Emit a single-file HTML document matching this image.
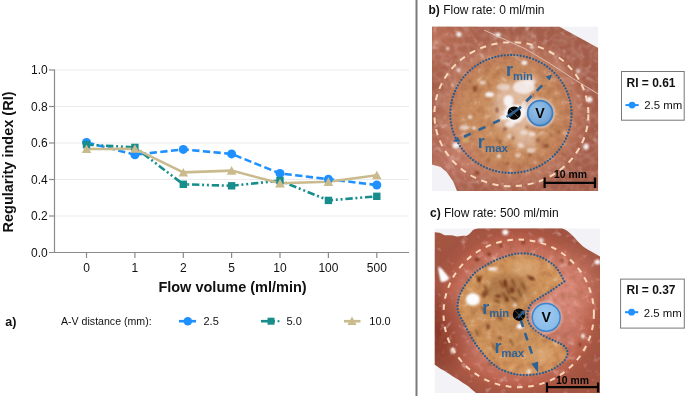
<!DOCTYPE html>
<html><head><meta charset="utf-8">
<style>
html,body{margin:0;padding:0;background:#fff;}
body{width:685px;height:396px;overflow:hidden;}
svg{display:block;will-change:transform;}
text{font-family:"Liberation Sans",sans-serif;}
</style></head>
<body>
<svg width="685" height="396" viewBox="0 0 685 396">
<defs>
  <clipPath id="clipB"><rect x="432" y="26.5" width="166.3" height="164.5"/></clipPath>
  <clipPath id="clipC"><rect x="434.5" y="228.3" width="165.5" height="164.7"/></clipPath>
  <filter id="blur1" x="-50%" y="-50%" width="200%" height="200%"><feGaussianBlur stdDeviation="1.2"/></filter>
  <radialGradient id="gTisC" cx="518" cy="312" r="115" gradientUnits="userSpaceOnUse">
    <stop offset="0" stop-color="#cc806e"/>
    <stop offset="0.5" stop-color="#ca7868"/>
    <stop offset="0.56" stop-color="#c46e5c"/>
    <stop offset="0.64" stop-color="#ba604c"/>
    <stop offset="0.7" stop-color="#aa5644"/>
    <stop offset="0.8" stop-color="#a25242"/>
    <stop offset="1" stop-color="#a45640"/>
  </radialGradient>
  <radialGradient id="gShadeC" cx="436" cy="332" r="46" gradientUnits="userSpaceOnUse">
    <stop offset="0" stop-color="#5a0c04" stop-opacity="0.4"/>
    <stop offset="0.6" stop-color="#5a0c04" stop-opacity="0.22"/>
    <stop offset="1" stop-color="#4a140a" stop-opacity="0"/>
  </radialGradient>
  <radialGradient id="gLightC" cx="568" cy="285" r="44" gradientUnits="userSpaceOnUse">
    <stop offset="0" stop-color="#eca090" stop-opacity="0.45"/>
    <stop offset="0.5" stop-color="#eca090" stop-opacity="0.3"/>
    <stop offset="1" stop-color="#e8a090" stop-opacity="0"/>
  </radialGradient>
  <filter id="blur05" x="-10%" y="-10%" width="120%" height="120%"><feGaussianBlur stdDeviation="0.8"/></filter>
  
  <radialGradient id="gInC" cx="510" cy="312" r="62" gradientUnits="userSpaceOnUse">
    <stop offset="0" stop-color="#c48c54"/>
    <stop offset="0.35" stop-color="#ca925c"/>
    <stop offset="0.8" stop-color="#d0945c"/>
    <stop offset="1" stop-color="#d4965e"/>
  </radialGradient>
  <radialGradient id="gV2" cx="0.45" cy="0.4" r="0.7">
    <stop offset="0" stop-color="#9dcaf0"/>
    <stop offset="1" stop-color="#86b8e6"/>
  </radialGradient>
  <radialGradient id="gV" cx="0.4" cy="0.35" r="0.75">
    <stop offset="0" stop-color="#94c2ea"/>
    <stop offset="0.7" stop-color="#78a8d8"/>
    <stop offset="1" stop-color="#5f90c4"/>
  </radialGradient>
  <filter id="blur2" x="-50%" y="-50%" width="200%" height="200%"><feGaussianBlur stdDeviation="3"/></filter>
  <radialGradient id="gTisB" cx="511" cy="114" r="110" gradientUnits="userSpaceOnUse">
    <stop offset="0" stop-color="#d09a6c"/>
    <stop offset="0.29" stop-color="#c98d5f"/>
    <stop offset="0.44" stop-color="#c68a5f"/>
    <stop offset="0.52" stop-color="#c2805c"/>
    <stop offset="0.6" stop-color="#bb765f"/>
    <stop offset="0.67" stop-color="#ae6650"/>
    <stop offset="0.74" stop-color="#a65e4c"/>
    <stop offset="1" stop-color="#a45c4a"/>
  </radialGradient>
  <radialGradient id="gShadeB" cx="436" cy="32" r="55" gradientUnits="userSpaceOnUse">
    <stop offset="0" stop-color="#c4785e" stop-opacity="0.75"/>
    <stop offset="0.6" stop-color="#c4785e" stop-opacity="0.3"/>
    <stop offset="1" stop-color="#c4785e" stop-opacity="0"/>
  </radialGradient>
  <filter id="tex" x="0" y="0" width="100%" height="100%" filterUnits="objectBoundingBox">
    <feTurbulence type="fractalNoise" baseFrequency="0.13" numOctaves="3" seed="7" result="n"/>
    <feColorMatrix type="matrix" values="0 0 0 0 0.35  0 0 0 0 0.12  0 0 0 0 0.05  1.6 0 0 0 -0.75" in="n" result="dark"/>
    <feColorMatrix type="matrix" values="0 0 0 0 0.97  0 0 0 0 0.88  0 0 0 0 0.8  -1.6 0 0 0 0.62" in="n" result="light"/>
    <feMerge><feMergeNode in="dark"/><feMergeNode in="light"/></feMerge>
  </filter>
  <clipPath id="clipTisC"><path d="M434.5,232 C437,233 440,232 443,234.5 C447,236.5 451,234 455,236 C459,237.5 463,235 466,236 C469,235 471,232 473,230 C475,229 477,228.5 479,228.3 H562 C566,230 569,232 572,235 C576,239 579,243 583,246.5 C588,250 594,253 600,256.5 V393 H476 C474,391 471,389 468.6,386.5 C465,384 462,382 459.2,380.2 C456,378 453,377 450.8,375 C448,373 445,371 442.4,369.7 C439,368 437,366 434.5,364.5 Z"/></clipPath>
  <clipPath id="clipTisB"><path d="M432,26.5 H559 L598.3,48 V191 H457 L453,181 L446.7,172 L440.4,166.7 L432,164.6 Z"/></clipPath>
  <radialGradient id="gPinkB" cx="450" cy="160" r="38" gradientUnits="userSpaceOnUse">
    <stop offset="0" stop-color="#d08474" stop-opacity="0.55"/>
    <stop offset="0.6" stop-color="#d08474" stop-opacity="0.3"/>
    <stop offset="1" stop-color="#d08474" stop-opacity="0"/>
  </radialGradient>
  <filter id="mesh" x="0" y="0" width="100%" height="100%" filterUnits="objectBoundingBox">
    <feTurbulence type="turbulence" baseFrequency="0.11" numOctaves="1" seed="3" result="t"/>
    <feColorMatrix type="matrix" values="0 0 0 0 0.95  0 0 0 0 0.8  0 0 0 0 0.76  -7 0 0 0 0.75" in="t" result="l"/>
    <feGaussianBlur stdDeviation="0.8" in="l"/>
  </filter>
  <radialGradient id="gMaskB" cx="511" cy="114" r="110" gradientUnits="userSpaceOnUse">
    <stop offset="0.5" stop-color="#000"/>
    <stop offset="0.62" stop-color="#fff"/>
  </radialGradient>
  <mask id="maskOutB"><rect x="432" y="26" width="167" height="166" fill="url(#gMaskB)"/></mask>
</defs>
<rect x="0" y="0" width="685" height="396" fill="#fff"/>

<!-- ============ CHART ============ -->
<g id="grid" stroke="#ebebeb" stroke-width="1">
  <line x1="55" y1="70" x2="409" y2="70"/>
  <line x1="55" y1="106.5" x2="409" y2="106.5"/>
  <line x1="55" y1="143" x2="409" y2="143"/>
  <line x1="55" y1="179.5" x2="409" y2="179.5"/>
  <line x1="55" y1="216" x2="409" y2="216"/>
</g>
<g id="axes" stroke="#8a8a8a" stroke-width="1.2" fill="none">
  <line x1="54.5" y1="69.5" x2="54.5" y2="253"/>
  <line x1="49" y1="252.5" x2="409" y2="252.5"/>
  <line x1="49" y1="70" x2="54.5" y2="70"/>
  <line x1="49" y1="106.5" x2="54.5" y2="106.5"/>
  <line x1="49" y1="143" x2="54.5" y2="143"/>
  <line x1="49" y1="179.5" x2="54.5" y2="179.5"/>
  <line x1="49" y1="216" x2="54.5" y2="216"/>
  <line x1="86.5" y1="252.5" x2="86.5" y2="258"/>
  <line x1="134.9" y1="252.5" x2="134.9" y2="258"/>
  <line x1="183.3" y1="252.5" x2="183.3" y2="258"/>
  <line x1="231.6" y1="252.5" x2="231.6" y2="258"/>
  <line x1="280" y1="252.5" x2="280" y2="258"/>
  <line x1="328.4" y1="252.5" x2="328.4" y2="258"/>
  <line x1="376.8" y1="252.5" x2="376.8" y2="258"/>
</g>
<g font-size="12" fill="#111" text-anchor="end">
  <text x="47.7" y="74.4">1.0</text>
  <text x="47.7" y="110.9">0.8</text>
  <text x="47.7" y="147.4">0.6</text>
  <text x="47.7" y="183.9">0.4</text>
  <text x="47.7" y="220.4">0.2</text>
  <text x="47.7" y="256.9">0.0</text>
</g>
<g font-size="12" fill="#111" text-anchor="middle">
  <text x="86.5" y="271.6">0</text>
  <text x="134.9" y="271.6">1</text>
  <text x="183.3" y="271.6">2</text>
  <text x="231.6" y="271.6">5</text>
  <text x="280" y="271.6">10</text>
  <text x="328.4" y="271.6">100</text>
  <text x="376.8" y="271.6">500</text>
</g>
<text x="232.5" y="292.3" font-size="14.5" font-weight="bold" text-anchor="middle" fill="#111">Flow volume (ml/min)</text>
<text transform="translate(12.6,162) rotate(-90)" font-size="14.5" font-weight="bold" text-anchor="middle" fill="#111">Regularity index (RI)</text>

<!-- series -->
<g fill="none" stroke-width="2.6">
  <polyline stroke="#1e90ff" stroke-dasharray="7.3 3.4" stroke-dashoffset="-0.57" points="86.5,142.4 134.9,154.7 183.3,149.4 231.6,153.9 280,173.4 328.4,179.2 376.8,185"/>
  <polyline stroke="#178e8c" stroke-dasharray="7.4 2.7 2 2.8 2 2.8" stroke-dashoffset="0.15" points="86.5,144.6 134.9,147.4 183.3,184.3 231.6,185.8 280,180.6 328.4,200.4 376.8,196.3"/>
  <polyline stroke="#c9bb8d" points="86.5,149 134.9,148.7 183.3,172.4 231.6,170.6 280,183.3 328.4,181.8 376.8,175.2"/>
</g>
<g fill="#1e90ff">
  <circle cx="86.5" cy="142.4" r="4.5"/>
  <circle cx="134.9" cy="154.7" r="4.5"/>
  <circle cx="183.3" cy="149.4" r="4.5"/>
  <circle cx="231.6" cy="153.9" r="4.5"/>
  <circle cx="280" cy="173.4" r="4.5"/>
  <circle cx="328.4" cy="179.2" r="4.5"/>
  <circle cx="376.8" cy="185" r="4.5"/>
</g>
<g fill="#178e8c">
  <rect x="82.8" y="140.9" width="7.4" height="7.4"/>
  <rect x="131.2" y="143.7" width="7.4" height="7.4"/>
  <rect x="179.6" y="180.6" width="7.4" height="7.4"/>
  <rect x="227.9" y="182.1" width="7.4" height="7.4"/>
  <rect x="276.3" y="176.9" width="7.4" height="7.4"/>
  <rect x="324.7" y="196.7" width="7.4" height="7.4"/>
  <rect x="373.1" y="192.6" width="7.4" height="7.4"/>
</g>
<g fill="#c9bb8d">
  <path d="M86.5,144.5 l4.8,8.6 h-9.6z"/>
  <path d="M134.9,144.2 l4.8,8.6 h-9.6z"/>
  <path d="M183.3,167.9 l4.8,8.6 h-9.6z"/>
  <path d="M231.6,166.1 l4.8,8.6 h-9.6z"/>
  <path d="M280,178.8 l4.8,8.6 h-9.6z"/>
  <path d="M328.4,177.3 l4.8,8.6 h-9.6z"/>
  <path d="M376.8,170.7 l4.8,8.6 h-9.6z"/>
</g>

<!-- legend -->
<text x="5.3" y="325.6" font-size="12.5" font-weight="bold" fill="#111">a)</text>
<text x="61" y="325" font-size="10.6" fill="#111">A-V distance (mm):</text>
<line x1="179" y1="321.2" x2="196" y2="321.2" stroke="#1e90ff" stroke-width="2.6"/>
<circle cx="187.8" cy="321.2" r="4.3" fill="#1e90ff"/>
<text x="203.5" y="325" font-size="11" fill="#111">2.5</text>
<line x1="261" y1="321.2" x2="275" y2="321.2" stroke="#178e8c" stroke-width="2.6"/>
<rect x="267.5" y="317.7" width="7" height="7" fill="#178e8c"/>
<rect x="277.5" y="320.2" width="2" height="2" fill="#178e8c"/>
<text x="286.5" y="325" font-size="11" fill="#111">5.0</text>
<line x1="344" y1="321.2" x2="360.5" y2="321.2" stroke="#c9bb8d" stroke-width="2.6"/>
<path d="M352,316.5 l4.6,8.4 h-9.2z" fill="#c9bb8d"/>
<text x="369.3" y="325" font-size="11" fill="#111">10.0</text>

<!-- divider -->
<line x1="416.5" y1="0" x2="416.5" y2="396" stroke="#7a7a7a" stroke-width="2"/>

<!-- ============ PANEL B ============ -->
<text x="428.5" y="14" font-size="12" fill="#111"><tspan font-weight="bold">b)</tspan> Flow rate: 0 ml/min</text>
<g clip-path="url(#clipB)">
  <rect x="432" y="26.5" width="166.3" height="164.5" fill="#f3f3f7"/>
  <path id="tisB" d="M432,26.5 H559 L598.3,48 V191 H457 L453,181 L446.7,172 L440.4,166.7 L432,164.6 Z" fill="url(#gTisB)"/>
  <path d="M432,26.5 H559 L598.3,48 V191 H457 L453,181 L446.7,172 L440.4,166.7 L432,164.6 Z" fill="url(#gShadeB)"/>
  <rect x="432" y="110" width="80" height="82" fill="url(#gPinkB)" clip-path="url(#clipTisB)"/>
  <rect x="432" y="26.5" width="166.3" height="164.5" filter="url(#tex)" clip-path="url(#clipTisB)" opacity="0.75"/>
  <rect x="432" y="26.5" width="166.3" height="164.5" filter="url(#mesh)" clip-path="url(#clipTisB)" mask="url(#maskOutB)" opacity="0.3"/>
  <!-- pale mottles in inner region -->
  <g fill="#f2ddd0" opacity="0.5" filter="url(#blur2)">
    <ellipse cx="515" cy="108" rx="22" ry="26"/>
    <ellipse cx="528" cy="80" rx="10" ry="6"/>
    <ellipse cx="525" cy="140" rx="12" ry="8"/>
  </g>
  <!-- white patches -->
  <g fill="#f7f4f6" filter="url(#blur1)">
    <ellipse cx="524" cy="87" rx="11" ry="7" opacity="0.8"/>
    <ellipse cx="530" cy="82" rx="6" ry="3" opacity="0.7"/>
    <ellipse cx="508.5" cy="101" rx="5" ry="6"/>
    <ellipse cx="515" cy="113" rx="11" ry="8.5"/>
    <ellipse cx="510" cy="124" rx="5" ry="3" opacity="0.8"/>
    <ellipse cx="489.5" cy="94.5" rx="4.5" ry="2.5"/>
    <ellipse cx="503" cy="87" rx="7" ry="3.5" opacity="0.55"/>
    <ellipse cx="483" cy="82.5" rx="3" ry="1.5" opacity="0.8"/>
    <ellipse cx="504" cy="117.5" rx="4" ry="2.5"/>
    <ellipse cx="515.5" cy="120.7" rx="5.5" ry="2.2"/>
    <ellipse cx="524" cy="108" rx="3" ry="7" opacity="0.7"/>
    <ellipse cx="524" cy="132.5" rx="4" ry="2.5" opacity="0.6"/>
    <ellipse cx="532" cy="134" rx="3.5" ry="2.5" opacity="0.6"/>
    <ellipse cx="509" cy="136.5" rx="2.8" ry="2.5" opacity="0.6"/>
    <ellipse cx="521" cy="145.5" rx="3" ry="2.5" opacity="0.6"/>
    <ellipse cx="531" cy="150.5" rx="4.5" ry="2.5" opacity="0.6"/>
    <ellipse cx="517.5" cy="155" rx="2.5" ry="2" opacity="0.6"/>
    <ellipse cx="524.4" cy="62.7" rx="3" ry="2.2"/>
    <ellipse cx="531.8" cy="47" rx="2" ry="1.6"/>
    <ellipse cx="499" cy="156" rx="2" ry="1.8"/>
    <ellipse cx="464" cy="127.5" rx="5" ry="2.5" opacity="0.6"/>
    <ellipse cx="470" cy="117" rx="2" ry="1.5"/>
    <ellipse cx="474" cy="128" rx="2" ry="1.5"/>
    <ellipse cx="456" cy="145.5" rx="3.5" ry="3"/>
    <ellipse cx="459" cy="34.4" rx="2.6" ry="2.4"/>
    <ellipse cx="498" cy="34.8" rx="2.6" ry="2.4"/>
    <ellipse cx="447.7" cy="48.6" rx="1.6" ry="1.5"/>
    <ellipse cx="458.5" cy="70" rx="1.8" ry="1.5"/>
    <ellipse cx="452.4" cy="85" rx="1.2" ry="1.2"/>
    <ellipse cx="578" cy="71" rx="2" ry="2.5" opacity="0.7"/>
    <ellipse cx="589.4" cy="99.4" rx="3" ry="3"/>
    <ellipse cx="586" cy="146.7" rx="2.5" ry="3"/>
  </g>
  <ellipse cx="465.5" cy="140.4" rx="4" ry="2.5" fill="#d8c070" opacity="0.6" filter="url(#blur1)"/>
  <!-- dark spots -->
  <g fill="#7a3a20" opacity="0.75" filter="url(#blur1)">
    <ellipse cx="497" cy="110" rx="1.5" ry="3"/>
    <ellipse cx="505" cy="129" rx="2" ry="1.5"/>
    <ellipse cx="538" cy="140" rx="2" ry="1.5"/>
    <ellipse cx="492" cy="125" rx="1.2" ry="1.2"/>
    <ellipse cx="527" cy="127" rx="1.5" ry="1.2"/>
    <ellipse cx="513" cy="138" rx="1.2" ry="1.5"/>
    <ellipse cx="533" cy="95" rx="1.2" ry="2"/>
    <ellipse cx="475" cy="88.9" rx="2.2" ry="3.2"/>
    <ellipse cx="469.7" cy="81.6" rx="1.4" ry="1.2"/>
    <ellipse cx="477" cy="173" rx="2.5" ry="2"/>
    <ellipse cx="488.6" cy="160" rx="1.3" ry="1.2"/>
    <ellipse cx="507.5" cy="163.5" rx="1.5" ry="1.5"/>
    <ellipse cx="546.4" cy="145.7" rx="2.6" ry="2"/>
    <ellipse cx="559" cy="132" rx="1.2" ry="1.5"/>
    <ellipse cx="563" cy="154" rx="1.5" ry="1.2"/>
    <ellipse cx="550.6" cy="135.2" rx="1.2" ry="1.2"/>
    <ellipse cx="452" cy="103" rx="1.5" ry="1.5"/>
    <ellipse cx="500" cy="142" rx="1.3" ry="2"/>
    <ellipse cx="530" cy="155" rx="1.2" ry="1.2"/>
  </g>
  <path d="M484,30 L525,48.7 L550.5,63.9 L575.8,80.3 L598.5,94.2" stroke="#ebcfc3" stroke-width="0.9" fill="none" opacity="0.85"/>
  <ellipse cx="511.4" cy="114.2" rx="77" ry="72" fill="none" stroke="#f8d9bd" stroke-width="2" stroke-dasharray="6.2 5.6"/>
  <ellipse cx="510.9" cy="114" rx="60.6" ry="59" fill="none" stroke="#285c8f" stroke-width="2.3" stroke-dasharray="0 3.2" stroke-linecap="round"/>
  <g stroke="#2c6294" stroke-width="2.6" fill="none">
    <line x1="519.9" y1="107.7" x2="546" y2="81.6" stroke-dasharray="7.6 7.4" stroke-dashoffset="6.1"/>
    <line x1="506.95" y1="116.8" x2="460" y2="138.7" stroke-dasharray="7.4 8.6" stroke-dashoffset="8.1"/>
  </g>
  <g fill="#2c6294">
    <path d="M552.2,74.5 L545.6,76.6 L549.8,80.5 Z"/>
    <path d="M457.6,136.8 L453,141.6 L460.3,141.4 Z"/>
  </g>
  <text x="506" y="76" font-size="18" font-weight="bold" fill="#2e6396">r</text>
  <text x="513" y="79.5" font-size="11.2" font-weight="bold" fill="#2e6396">min</text>
  <text x="477.8" y="148" font-size="18" font-weight="bold" fill="#2e6396">r</text>
  <text x="485" y="151.6" font-size="11.5" font-weight="bold" fill="#2e6396">max</text>
  <circle cx="514.2" cy="113.1" r="6.7" fill="#050505"/>
  <path d="M510,108.9 L518.4,117.3 M518.4,108.9 L510,117.3" stroke="#8a8a8a" stroke-width="0.6"/>
  <line x1="506.6" y1="117" x2="520.6" y2="107.4" stroke="#2c6294" stroke-width="2.4"/>
  <circle cx="540.1" cy="113.1" r="13.9" fill="none" stroke="#f2eef4" stroke-width="1.6" opacity="0.85" filter="url(#blur05)"/>
  <circle cx="540.1" cy="113.1" r="12.4" fill="url(#gV)" stroke="#3a80c6" stroke-width="1.8"/>
  <text x="540.1" y="117.6" font-size="14.2" font-weight="bold" text-anchor="middle" fill="#050505">V</text>
  <g stroke="#050505" stroke-width="2.2">
    <line x1="544" y1="182.8" x2="595" y2="182.8"/>
    <line x1="544.6" y1="177.4" x2="544.6" y2="188"/>
    <line x1="595" y1="177.4" x2="595" y2="188"/>
  </g>
  <text x="554" y="178.2" font-size="10.4" font-weight="bold" fill="#050505">10 mm</text>
</g>

<!-- ============ PANEL C ============ -->
<text x="430" y="217.4" font-size="12" fill="#111"><tspan font-weight="bold">c)</tspan> Flow rate: 500 ml/min</text>
<g clip-path="url(#clipC)">
  <rect x="434.5" y="228.3" width="165.5" height="164.7" fill="#f3f2f7"/>
  <path id="tisC" d="M434.5,232 C437,233 440,232 443,234.5 C447,236.5 451,234 455,236 C459,237.5 463,235 466,236 C469,235 471,232 473,230 C475,229 477,228.5 479,228.3 H562 C566,230 569,232 572,235 C576,239 579,243 583,246.5 C588,250 594,253 600,256.5 V393 H476 C474,391 471,389 468.6,386.5 C465,384 462,382 459.2,380.2 C456,378 453,377 450.8,375 C448,373 445,371 442.4,369.7 C439,368 437,366 434.5,364.5 Z" fill="url(#gTisC)"/>
  <path d="M434.5,232 C437,233 440,232 443,234.5 C447,236.5 451,234 455,236 C459,237.5 463,235 466,236 C469,235 471,232 473,230 C475,229 477,228.5 479,228.3 H562 C566,230 569,232 572,235 C576,239 579,243 583,246.5 C588,250 594,253 600,256.5 V393 H476 C474,391 471,389 468.6,386.5 C465,384 462,382 459.2,380.2 C456,378 453,377 450.8,375 C448,373 445,371 442.4,369.7 C439,368 437,366 434.5,364.5 Z" fill="url(#gShadeC)"/>
  <rect x="524" y="241" width="76" height="88" fill="url(#gLightC)"/>
  <path id="pacC" d="M564.4,281.5 C562.1,283.1 554.6,288.5 550.5,291.2 C546.4,293.9 543.1,295.4 540.0,297.5 C536.9,299.6 533.7,300.8 531.6,303.5 C529.5,306.2 527.7,309.9 527.5,313.5 C527.3,317.1 527.7,321.5 530.3,325.2 C532.9,328.9 538.7,332.8 543.0,335.5 C547.3,338.2 552.3,339.6 556.0,341.5 C559.7,343.4 563.1,344.9 565.0,347.0 C566.9,349.1 567.8,351.5 567.5,354.0 C567.2,356.5 565.6,359.4 563.0,362.0 C560.4,364.6 556.2,367.5 552.0,369.5 C547.8,371.5 543.0,373.1 538.0,374.0 C533.0,374.9 526.6,375.2 522.0,375.0 C517.4,374.8 514.4,374.2 510.5,373.0 C506.6,371.8 502.4,370.6 498.4,368.0 C494.4,365.4 490.4,361.9 486.3,357.5 C482.2,353.1 477.6,347.0 474.0,341.5 C470.4,336.0 467.1,329.4 464.4,324.3 C461.7,319.2 459.0,315.1 458.0,311.0 C457.0,306.9 457.8,303.2 458.3,300.0 C458.9,296.8 459.9,294.4 461.3,291.5 C462.8,288.6 464.7,285.7 467.0,282.5 C469.3,279.3 472.4,275.2 475.2,272.5 C478.0,269.8 480.7,268.5 484.0,266.5 C487.3,264.5 491.2,262.3 494.8,260.6 C498.4,258.9 502.1,257.6 505.5,256.5 C508.9,255.4 511.6,254.5 515.0,254.0 C518.4,253.5 522.2,253.2 526.0,253.5 C529.8,253.8 534.3,254.8 538.0,256.0 C541.7,257.2 544.8,258.9 548.0,261.0 C551.2,263.1 554.3,265.1 557.0,268.5 C559.7,271.9 563.2,279.3 564.4,281.5 Z" fill="url(#gInC)" filter="url(#blur05)"/>
  <rect x="434.5" y="228.3" width="165.5" height="164.7" filter="url(#tex)" clip-path="url(#clipTisC)" opacity="0.75"/>
  <g fill="#e2b88a" opacity="0.45" filter="url(#blur2)">
    <ellipse cx="525" cy="268" rx="14" ry="8"/>
    <ellipse cx="540" cy="355" rx="12" ry="8"/>
  </g>
  <g fill="#fdfcfc" filter="url(#blur1)">
    <ellipse cx="472.8" cy="299.3" rx="7" ry="6.3"/>
    <path d="M438.5,266.5 L448.5,278.5 L441.5,281.8 Z"/>
    <ellipse cx="452.9" cy="350.8" rx="2.2" ry="3"/>
    <ellipse cx="505.3" cy="232.2" rx="3" ry="2.8"/>
    <ellipse cx="541" cy="240.6" rx="2.5" ry="2.5" opacity="0.8"/>
    <ellipse cx="492.7" cy="268.9" rx="5" ry="1.8" opacity="0.85"/>
    <ellipse cx="520" cy="326.5" rx="3.5" ry="2.5"/>
    <ellipse cx="529" cy="371.5" rx="2" ry="2.5" opacity="0.8"/>
    <ellipse cx="583" cy="336" rx="1.8" ry="2.6"/>
    <ellipse cx="597.5" cy="262" rx="3" ry="2.5"/>
    <ellipse cx="515" cy="305" rx="2" ry="2" opacity="0.7"/>
  </g>
  <path d="M438.3,266.5 C441,268 446,274 449,278.5 C447,280.5 444,281.8 441.3,281.8 C440,277 439,271 438.3,266.5 Z" fill="#fdfcfd" filter="url(#blur05)"/>
  <ellipse cx="508" cy="288" rx="22" ry="14" fill="#8a5a30" opacity="0.35" filter="url(#blur2)"/>
  <g stroke="#5a2a10" stroke-width="1.6" stroke-linecap="round" opacity="0.75" fill="none" filter="url(#blur05)">
    <path d="M477,276 L479,281 L481.5,276"/>
    <path d="M485,286 L487,293"/>
    <path d="M500,281 L503,287"/>
    <path d="M506,285 L509,294"/>
    <path d="M512,280 L515,286"/>
    <path d="M518,290 L521,296"/>
    <path d="M503,293 L507,299"/>
    <path d="M511,297 L516,300"/>
    <path d="M522,283 L525,289"/>
    <path d="M528,276 L534,280"/>
    <path d="M482,294 L484,297 L487,293"/>
    <path d="M481,307 L485,311"/>
    <path d="M495,300 L499,302"/>
    <path d="M498,316 L502,320"/>
    <path d="M493,345 L495,350"/>
    <path d="M510,340 L513,345"/>
    <path d="M476,330 L478,335"/>
  </g>
  <g fill="#6a2a12" opacity="0.8" filter="url(#blur1)">
    <ellipse cx="477" cy="259.4" rx="2.2" ry="2.2"/>
    <ellipse cx="489" cy="254.2" rx="1.8" ry="1.8"/>
    <ellipse cx="501" cy="245.8" rx="1.6" ry="1.8"/>
    <ellipse cx="523.3" cy="242.7" rx="1.6" ry="1.6"/>
    <ellipse cx="562" cy="260.5" rx="1.4" ry="1.6"/>
    <ellipse cx="569.4" cy="263.6" rx="1.3" ry="1.5"/>
    <ellipse cx="531.7" cy="278.3" rx="3" ry="1.5"/>
    <ellipse cx="479" cy="279.4" rx="1.5" ry="3"/>
    <ellipse cx="484.3" cy="293" rx="1.5" ry="2.5"/>
    <ellipse cx="505" cy="283" rx="2" ry="4"/>
    <ellipse cx="512" cy="290" rx="2.5" ry="3"/>
    <ellipse cx="498" cy="296" rx="3" ry="1.5"/>
    <ellipse cx="507" cy="300" rx="2" ry="2"/>
    <ellipse cx="488" cy="327" rx="1.5" ry="3"/>
    <ellipse cx="500" cy="338" rx="1.3" ry="2"/>
    <ellipse cx="580" cy="344.5" rx="1.5" ry="1.8"/>
    <ellipse cx="453" cy="352" rx="0.8" ry="1"/>
    <ellipse cx="490" cy="364" rx="1.5" ry="1.2"/>
  </g>
  <ellipse cx="518.7" cy="313.4" rx="75.2" ry="73.8" fill="none" stroke="#f8d9bd" stroke-width="2" stroke-dasharray="5.6 5.7"/>
  <path d="M564.4,281.5 C562.1,283.1 554.6,288.5 550.5,291.2 C546.4,293.9 543.1,295.4 540.0,297.5 C536.9,299.6 533.7,300.8 531.6,303.5 C529.5,306.2 527.7,309.9 527.5,313.5 C527.3,317.1 527.7,321.5 530.3,325.2 C532.9,328.9 538.7,332.8 543.0,335.5 C547.3,338.2 552.3,339.6 556.0,341.5 C559.7,343.4 563.1,344.9 565.0,347.0 C566.9,349.1 567.8,351.5 567.5,354.0 C567.2,356.5 565.6,359.4 563.0,362.0 C560.4,364.6 556.2,367.5 552.0,369.5 C547.8,371.5 543.0,373.1 538.0,374.0 C533.0,374.9 526.6,375.2 522.0,375.0 C517.4,374.8 514.4,374.2 510.5,373.0 C506.6,371.8 502.4,370.6 498.4,368.0 C494.4,365.4 490.4,361.9 486.3,357.5 C482.2,353.1 477.6,347.0 474.0,341.5 C470.4,336.0 467.1,329.4 464.4,324.3 C461.7,319.2 459.0,315.1 458.0,311.0 C457.0,306.9 457.8,303.2 458.3,300.0 C458.9,296.8 459.9,294.4 461.3,291.5 C462.8,288.6 464.7,285.7 467.0,282.5 C469.3,279.3 472.4,275.2 475.2,272.5 C478.0,269.8 480.7,268.5 484.0,266.5 C487.3,264.5 491.2,262.3 494.8,260.6 C498.4,258.9 502.1,257.6 505.5,256.5 C508.9,255.4 511.6,254.5 515.0,254.0 C518.4,253.5 522.2,253.2 526.0,253.5 C529.8,253.8 534.3,254.8 538.0,256.0 C541.7,257.2 544.8,258.9 548.0,261.0 C551.2,263.1 554.3,265.1 557.0,268.5 C559.7,271.9 563.2,279.3 564.4,281.5 Z" fill="none" stroke="#285c8f" stroke-width="2.3" stroke-dasharray="0 3.2" stroke-linecap="round"/>
  <line x1="520.6" y1="319.5" x2="533.7" y2="359.3" stroke="#2c6294" stroke-width="2.6" stroke-dasharray="8 6"/>
  <path d="M538.2,373 L531.5,363.7 L538.1,361.5 Z" fill="#2c6294"/>
  <text x="482.3" y="313.5" font-size="18" font-weight="bold" fill="#2e6396">r</text>
  <text x="489.3" y="317.2" font-size="11.2" font-weight="bold" fill="#2e6396">min</text>
  <text x="494.6" y="352.7" font-size="18" font-weight="bold" fill="#2e6396">r</text>
  <text x="501.2" y="357.1" font-size="11.5" font-weight="bold" fill="#2e6396">max</text>
  <circle cx="519" cy="314.7" r="6.2" fill="#050505"/>
  <path d="M515,310.5 L523,318.9 M523,310.5 L515,318.9" stroke="#888" stroke-width="0.6"/>
  <line x1="518" y1="318" x2="523" y2="312.5" stroke="#2c6294" stroke-width="1.8"/>
  <path d="M525.5,310.5 L520.5,311.5 L524,315.5 Z" fill="#2c6294"/>
  <circle cx="546.2" cy="317.3" r="15.3" fill="none" stroke="#f2eef4" stroke-width="1.4" opacity="0.6" filter="url(#blur05)"/>
  <circle cx="546.2" cy="317.3" r="13.9" fill="url(#gV2)" stroke="#3a86d0" stroke-width="1.5"/>
  <text x="546.2" y="321.9" font-size="14.2" font-weight="bold" text-anchor="middle" fill="#050505">V</text>
  <g stroke="#050505" stroke-width="2.2">
    <line x1="546.5" y1="387.1" x2="598" y2="387.1"/>
    <line x1="547" y1="382.5" x2="547" y2="392.4"/>
    <line x1="598" y1="382.5" x2="598" y2="392.4"/>
  </g>
  <text x="556" y="383.7" font-size="10.4" font-weight="bold" fill="#050505">10 mm</text>
</g>

<!-- legend boxes -->
<rect x="621.5" y="71.5" width="62.7" height="48.7" fill="#fff" stroke="#777" stroke-width="1"/>
<text x="626.5" y="86.5" font-size="12" font-weight="bold" fill="#111">RI = 0.61</text>
<line x1="625.5" y1="105.1" x2="638.7" y2="105.1" stroke="#1e90ff" stroke-width="2"/>
<circle cx="632.1" cy="105.1" r="3.4" fill="#1e90ff"/>
<text x="644.2" y="109.2" font-size="11.4" fill="#111">2.5 mm</text>

<rect x="620.6" y="279.1" width="63.7" height="49" fill="#fff" stroke="#777" stroke-width="1"/>
<text x="626.5" y="293.6" font-size="12" font-weight="bold" fill="#111">RI = 0.37</text>
<line x1="625" y1="312.2" x2="638.2" y2="312.2" stroke="#1e90ff" stroke-width="2"/>
<circle cx="631.6" cy="312.2" r="3.4" fill="#1e90ff"/>
<text x="643.8" y="316.6" font-size="11.4" fill="#111">2.5 mm</text>
</svg>
</body></html>
